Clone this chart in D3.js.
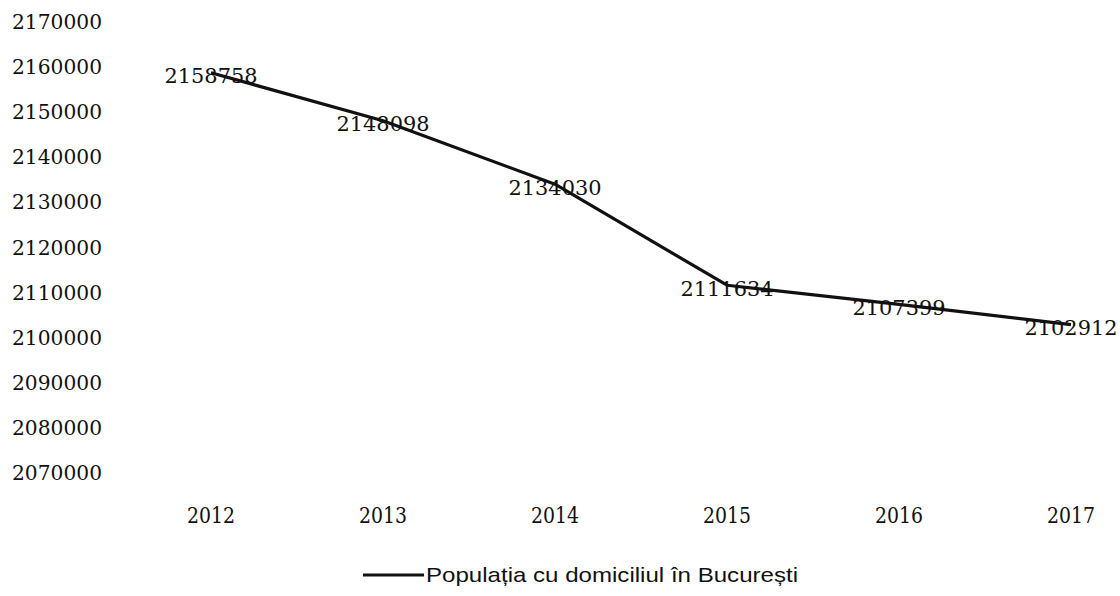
<!DOCTYPE html>
<html><head><meta charset="utf-8">
<script src="https://cdn.jsdelivr.net/npm/d3@7"></script>
<style>body{margin:0;background:#fff}svg{display:block}</style>
</head><body>
<svg id="c" width="1120" height="596"></svg>
<script>
const years = ["2012","2013","2014","2015","2016","2017"];
const population = [2158758, 2148098, 2134030, 2111634, 2107399, 2102912];
const yTicks = [2070000,2080000,2090000,2100000,2110000,2120000,2130000,2140000,2150000,2160000,2170000];
const seriesName = "Populația cu domiciliul în București";

const svg = d3.select("#c");
const x = d3.scalePoint().domain(years).range([211, 1071]).padding(0);
const y = d3.scaleLinear().domain([2070000, 2170000]).range([473, 22]);

// y tick labels
svg.append("g").selectAll("text").data(yTicks).join("text")
  .attr("x", 102).attr("y", d => y(d)).attr("dy", "0.35em")
  .attr("text-anchor", "end")
  .attr("font-family", "DejaVu Serif").attr("font-size", 20).attr("fill", "#111")
  .attr("textLength", 90).attr("lengthAdjust", "spacingAndGlyphs")
  .text(d => d);

// x tick labels
svg.append("g").selectAll("text").data(years).join("text")
  .attr("x", d => x(d)).attr("y", 515).attr("dy", "0.35em")
  .attr("text-anchor", "middle")
  .attr("font-family", "DejaVu Serif").attr("font-size", 22).attr("fill", "#111")
  .attr("textLength", 48).attr("lengthAdjust", "spacingAndGlyphs")
  .text(d => d);

// line
const line = d3.line().x((d,i) => x(years[i])).y(d => y(d));
svg.append("path").datum(population)
  .attr("d", line).attr("fill", "none")
  .attr("stroke", "#111").attr("stroke-width", 3.2)
  .attr("stroke-linejoin", "round");

// data labels
svg.append("g").selectAll("text").data(population).join("text")
  .attr("x", (d,i) => x(years[i])).attr("y", d => y(d) + 3).attr("dy", "0.35em")
  .attr("text-anchor", "middle")
  .attr("font-family", "DejaVu Serif").attr("font-size", 21).attr("fill", "#111")
  .attr("textLength", 93).attr("lengthAdjust", "spacingAndGlyphs")
  .text(d => d);

// legend
svg.append("line").attr("x1", 363).attr("x2", 424).attr("y1", 575).attr("y2", 575)
  .attr("stroke", "#111").attr("stroke-width", 3);
svg.append("text").attr("x", 426).attr("y", 575).attr("dy", "0.35em")
  .attr("font-family", "Liberation Sans").attr("font-size", 21).attr("fill", "#111")
  .attr("textLength", 372).attr("lengthAdjust", "spacingAndGlyphs")
  .text(seriesName);
</script>
</body></html>
